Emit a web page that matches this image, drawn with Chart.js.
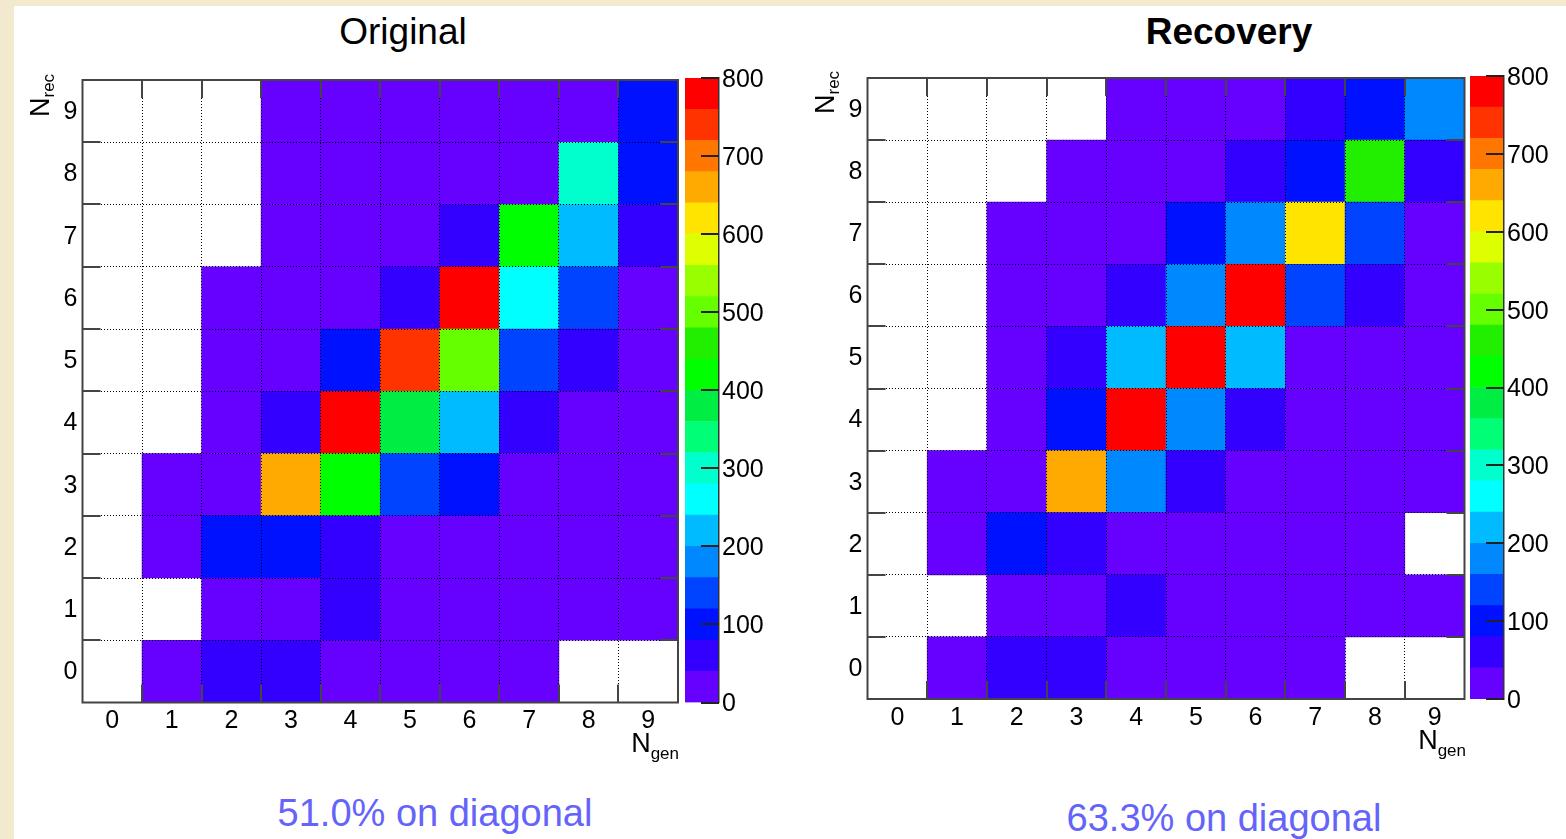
<!DOCTYPE html>
<html>
<head>
<meta charset="utf-8">
<script src="https://cdn.jsdelivr.net/npm/chart.js@4.4.1/dist/chart.umd.min.js"></script>
<style>
  html, body { margin:0; padding:0; width:1566px; height:839px; overflow:hidden; background:#f3e9cf; }
  #sheet { position:absolute; left:14px; top:6px; width:1552px; height:833px; background:#ffffff; }
  canvas { position:absolute; }
  .t { position:absolute; font-family:'Liberation Sans', Arial, sans-serif; white-space:nowrap; line-height:1; color:#000; }
  .rot { transform:rotate(-90deg); transform-origin:0 0; }
  .cap { color:#6464fa; font-size:38px; width:600px; text-align:center; }
  .ttl { font-size:37px; width:500px; text-align:center; }
</style>
</head>
<body>
<div id="sheet"></div>

<canvas id="heat1" width="660" height="700" style="left:30px;top:60px"></canvas>
<canvas id="bar1" width="100" height="700" style="left:680px;top:60px"></canvas>
<canvas id="heat2" width="660" height="700" style="left:815px;top:58px"></canvas>
<canvas id="bar2" width="100" height="700" style="left:1465px;top:58px"></canvas>

<div id="title1" class="t ttl" style="left:153px;top:13px;"></div>
<div id="title2" class="t ttl" style="left:979px;top:13px;font-weight:bold;"></div>

<div class="t rot" style="left:27px;top:117px;font-size:27px;">N<span style="font-size:17px;position:relative;top:5px;">rec</span></div>
<div class="t rot" style="left:812px;top:114px;font-size:27px;">N<span style="font-size:17px;position:relative;top:5px;">rec</span></div>
<div class="t" style="right:887px;top:730px;font-size:27px;">N<span style="font-size:17px;position:relative;top:7px;">gen</span></div>
<div class="t" style="right:100px;top:727px;font-size:27px;">N<span style="font-size:17px;position:relative;top:7px;">gen</span></div>

<div id="cap1" class="t cap" style="left:135px;top:794px;"></div>
<div id="cap2" class="t cap" style="left:924px;top:799px;"></div>

<script>
// ---------------- data ----------------
const nGen = ['0', '1', '2', '3', '4', '5', '6', '7', '8', '9'];
const nRec = [0, 1, 2, 3, 4, 5, 6, 7, 8, 9];
const colorbarTicks = [0, 100, 200, 300, 400, 500, 600, 700, 800];
const paletteEdges = [0, 40, 80, 120, 160, 200, 240, 280, 320, 360, 400,
                      440, 480, 520, 560, 600, 640, 680, 720, 760, 800];
const paletteColors = ['#6600ff', '#3300ff', '#0011ff', '#0044ff', '#0088ff',
                       '#00bbff', '#00ffff', '#00ffcc', '#00ff77', '#00ee44',
                       '#00ff00', '#22ee00', '#66ff00', '#99ff00', '#ddff00',
                       '#ffe400', '#ffaa00', '#ff7700', '#ff3300', '#ff0000'];
const panelTitles = ['Original', 'Recovery'];
const diagonalShares = ['51.0%', '63.3%'];

// rows: N_rec = 0..9 ; columns: N_gen = 0..9 ; 0 = empty bin
const originalRec0 = [0, 25, 50, 50, 30, 20, 20, 10, 0, 0];
const originalRec1 = [0, 0, 35, 35, 60, 30, 20, 15, 10, 10];
const originalRec2 = [0, 25, 105, 100, 65, 35, 25, 20, 15, 10];
const originalRec3 = [0, 30, 35, 660, 420, 140, 100, 30, 20, 15];
const originalRec4 = [0, 0, 30, 65, 785, 375, 220, 60, 30, 20];
const originalRec5 = [0, 0, 20, 35, 100, 740, 500, 140, 60, 30];
const originalRec6 = [0, 0, 15, 25, 35, 65, 790, 260, 140, 35];
const originalRec7 = [0, 0, 0, 15, 20, 30, 55, 420, 220, 60];
const originalRec8 = [0, 0, 0, 10, 15, 20, 25, 35, 300, 110];
const originalRec9 = [0, 0, 0, 10, 10, 15, 15, 20, 35, 105];

const recoveryRec0 = [0, 25, 55, 55, 30, 25, 20, 15, 0, 0];
const recoveryRec1 = [0, 0, 30, 35, 60, 30, 25, 20, 15, 10];
const recoveryRec2 = [0, 25, 100, 65, 35, 30, 25, 20, 15, 0];
const recoveryRec3 = [0, 30, 35, 660, 180, 60, 35, 25, 20, 15];
const recoveryRec4 = [0, 0, 30, 100, 790, 180, 65, 35, 25, 20];
const recoveryRec5 = [0, 0, 25, 60, 220, 795, 220, 35, 25, 20];
const recoveryRec6 = [0, 0, 20, 30, 65, 180, 790, 140, 60, 30];
const recoveryRec7 = [0, 0, 15, 25, 30, 100, 185, 620, 140, 35];
const recoveryRec8 = [0, 0, 0, 15, 20, 30, 60, 100, 460, 60];
const recoveryRec9 = [0, 0, 0, 0, 10, 15, 20, 55, 100, 175];

const original = [originalRec0, originalRec1, originalRec2, originalRec3, originalRec4,
                  originalRec5, originalRec6, originalRec7, originalRec8, originalRec9];
const recovery = [recoveryRec0, recoveryRec1, recoveryRec2, recoveryRec3, recoveryRec4,
                  recoveryRec5, recoveryRec6, recoveryRec7, recoveryRec8, recoveryRec9];

// ---------------- helpers ----------------
const FONT = "'Liberation Sans', Arial, sans-serif";
function colorFor(v) {
  if (!v) return 'rgba(0,0,0,0)';
  for (let k = 0; k < paletteColors.length; k++) {
    if (v < paletteEdges[k + 1]) return paletteColors[k];
  }
  return paletteColors[paletteColors.length - 1];
}

const TICK = 18;
const framePlugin = {
  id: 'frameTicks',
  afterDraw(chart) {
    const { ctx, chartArea: a, scales: { x, y } } = chart;
    ctx.save();
    ctx.strokeStyle = '#444';
    ctx.lineWidth = 2;
    ctx.beginPath();
    for (let i = 1; i < nGen.length; i++) {
      const px = Math.round((x.getPixelForValue(i - 1) + x.getPixelForValue(i)) / 2);
      ctx.moveTo(px, a.bottom); ctx.lineTo(px, a.bottom - TICK);
      ctx.moveTo(px, a.top); ctx.lineTo(px, a.top + TICK);
    }
    for (let i = 1; i < nRec.length; i++) {
      const py = Math.round(y.getPixelForValue(nRec[i] - 0.5));
      ctx.moveTo(a.left, py); ctx.lineTo(a.left + TICK, py);
      ctx.moveTo(a.right, py); ctx.lineTo(a.right - TICK, py);
    }
    ctx.stroke();
    ctx.strokeRect(a.left, a.top, a.right - a.left, a.bottom - a.top);
    ctx.restore();
  }
};

const barTickPlugin = {
  id: 'barTicks',
  afterDraw(chart) {
    const { ctx, chartArea: a, scales: { y } } = chart;
    ctx.save();
    ctx.strokeStyle = '#222';
    ctx.lineWidth = 2;
    ctx.beginPath();
    colorbarTicks.forEach(v => {
      const py = Math.round(y.getPixelForValue(v));
      ctx.moveTo(a.right, py); ctx.lineTo(a.right - TICK, py);
    });
    ctx.stroke();
    ctx.restore();
  }
};

function heatmap(id, matrix, pad, yW, xH) {
  const datasets = nRec.map((r, ri) => ({
    label: 'N_rec ' + r,
    data: matrix[ri].map(v => (v > 0 ? [r - 0.5, r + 0.5] : null)),
    backgroundColor: matrix[ri].map(colorFor),
    borderWidth: 0,
    grouped: false,
    barPercentage: 1,
    categoryPercentage: 1
  }));
  return new Chart(document.getElementById(id), {
    type: 'bar',
    data: { labels: nGen, datasets },
    options: {
      responsive: false,
      animation: false,
      devicePixelRatio: 1,
      layout: { padding: pad },
      plugins: { legend: { display: false }, tooltip: { enabled: false } },
      scales: {
        x: {
          offset: true,
          grid: { offset: true, color: '#000', lineWidth: 1, drawTicks: false, z: 1 },
          border: { display: false, dash: [1, 2] },
          ticks: { color: '#000', font: { family: FONT, size: 25 }, padding: 4, maxRotation: 0, autoSkip: false },
          afterFit: s => { s.height = xH; }
        },
        y: {
          min: -0.5,
          max: 9.5,
          afterBuildTicks: s => { s.ticks = nRec.map(v => ({ value: v })); },
          grid: { offset: true, color: '#000', lineWidth: 1, drawTicks: false, z: 1 },
          border: { display: false, dash: [1, 2] },
          ticks: { color: '#000', font: { family: FONT, size: 25 }, padding: 5, labelOffset: 1, callback: v => String(v) },
          afterFit: s => { s.width = yW; }
        }
      }
    },
    plugins: [framePlugin]
  });
}

function colorbar(id, pad, axisW) {
  const datasets = paletteColors.map((c, k) => ({
    label: 'level ' + k,
    data: [[paletteEdges[k], paletteEdges[k + 1]]],
    backgroundColor: c,
    borderWidth: 0,
    grouped: false,
    barPercentage: 1,
    categoryPercentage: 1
  }));
  return new Chart(document.getElementById(id), {
    type: 'bar',
    data: { labels: ['z'], datasets },
    options: {
      responsive: false,
      animation: false,
      devicePixelRatio: 1,
      layout: { padding: pad },
      plugins: { legend: { display: false }, tooltip: { enabled: false } },
      scales: {
        x: { display: false },
        y: {
          position: 'right',
          min: colorbarTicks[0],
          max: colorbarTicks[colorbarTicks.length - 1],
          afterBuildTicks: s => { s.ticks = colorbarTicks.map(v => ({ value: v })); },
          grid: { display: false, drawTicks: false },
          border: { display: true, color: '#333', width: 1.5, z: 2 },
          ticks: { color: '#000', font: { family: FONT, size: 25 }, padding: 3, labelOffset: 2, callback: v => String(v) },
          afterFit: s => { s.width = axisW; }
        }
      }
    },
    plugins: [barTickPlugin]
  });
}

heatmap('heat1', original, { top: 17.5, right: 12, left: 0, bottom: 0 }, 52.5, 57.5);
colorbar('bar1', { top: 17.5, right: 0, left: 5, bottom: 57.5 }, 61);
heatmap('heat2', recovery, { top: 17, right: 10.5, left: 0, bottom: 0 }, 52.5, 59);
colorbar('bar2', { top: 17, right: 0, left: 5, bottom: 59 }, 61);

document.getElementById('title1').textContent = panelTitles[0];
document.getElementById('title2').textContent = panelTitles[1];
document.getElementById('cap1').textContent = diagonalShares[0] + ' on diagonal';
document.getElementById('cap2').textContent = diagonalShares[1] + ' on diagonal';
</script>
</body>
</html>
